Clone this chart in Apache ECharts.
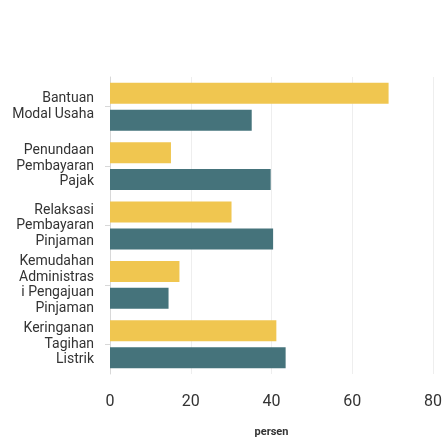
<!DOCTYPE html>
<html>
<head>
<meta charset="utf-8">
<script src="https://cdn.jsdelivr.net/npm/echarts@6/dist/echarts.min.js"></script>
<style>html,body{margin:0;padding:0;background:#fff}#c{width:446px;height:443px}</style>
</head>
<body>
<div id="c"></div>
<script>
const categories = [
  "Bantuan\nModal Usaha",
  "Penundaan\nPembayaran\nPajak",
  "Relaksasi\nPembayaran\nPinjaman",
  "Kemudahan\nAdministras\ni Pengajuan\nPinjaman",
  "Keringanan\nTagihan\nListrik"
];
const seriesA = [69.0, 15.1, 30.1, 17.2, 41.2];
const seriesB = [35.1, 39.8, 40.4, 14.5, 43.5];
const xTicks = [0, 20, 40, 60, 80];

const chart = echarts.init(document.getElementById('c'), null, {renderer: 'canvas'});
chart.setOption({
  animation: false,
  grid: {left: 110, right: 13, top: 77, bottom: 67, containLabel: false},
  xAxis: {
    type: 'value', min: xTicks[0], max: xTicks[xTicks.length - 1], interval: 20,
    name: 'persen', nameLocation: 'middle', nameGap: 53,
    nameTextStyle: {fontFamily: 'Roboto', fontWeight: 'bold', fontSize: 11, color: '#333'},
    axisLine: {show: false}, axisTick: {show: false},
    axisLabel: {fontFamily: 'Roboto', fontSize: 16, color: '#333', margin: 20},
    splitLine: {lineStyle: {color: '#eeeeee', width: 1}}
  },
  yAxis: {
    type: 'category', data: categories, inverse: true,
    axisLine: {show: true, lineStyle: {color: '#d8d8d8'}},
    axisTick: {show: true, alignWithLabel: true, length: 5, lineStyle: {color: '#d8d8d8'}},
    axisLabel: {fontFamily: 'Roboto', fontSize: 14, color: '#333', lineHeight: 15.5, margin: 16, align: 'right'}
  },
  series: [
    {type: 'bar', name: 'A', data: seriesA, barWidth: 21, barGap: '28%', itemStyle: {color: '#F0C650'}},
    {type: 'bar', name: 'B', data: seriesB, barWidth: 21, barGap: '28%', itemStyle: {color: '#45737B'}}
  ]
});
</script>
</body>
</html>
